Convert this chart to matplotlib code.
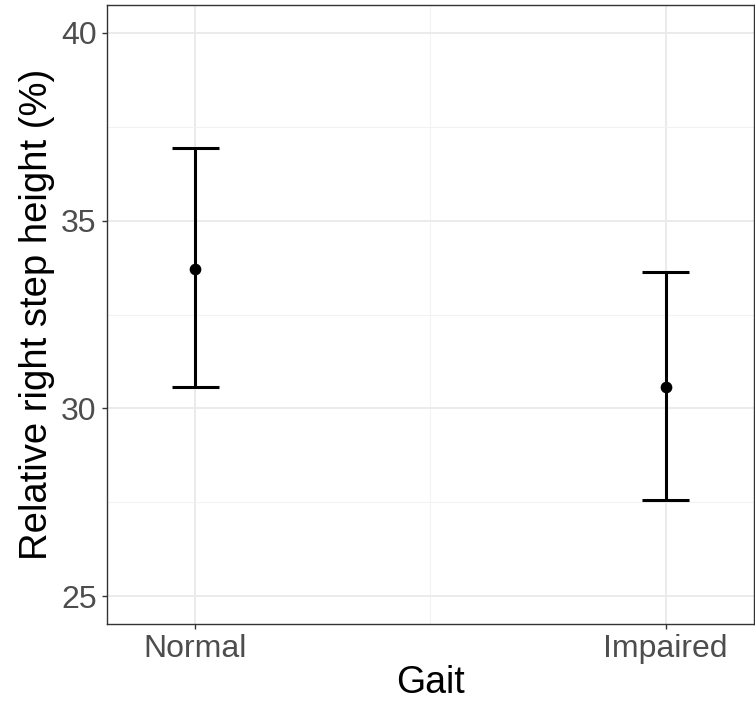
import matplotlib
matplotlib.use("Agg")
import matplotlib.pyplot as plt
from matplotlib.ticker import MultipleLocator

plt.rcParams['font.family'] = ['Liberation Sans', 'DejaVu Sans']

# ----------------------- Data -----------------------
gait = ["Normal", "Impaired"]
mean_height = [33.72, 30.58]
lower_ci = [30.56, 27.55]
upper_ci = [36.93, 33.63]

# ----------------------- Plotting -----------------------
fig = plt.figure(figsize=(7.55, 7.01), dpi=100)
ax = fig.add_axes([107 / 755, 77 / 701, 647 / 755, 619 / 701])

xpos = list(range(1, len(gait) + 1))
cap_half = 0.05

ax.vlines(xpos, lower_ci, upper_ci, color="black", linewidth=2.2, zorder=3)
ax.hlines(lower_ci, [x - cap_half for x in xpos], [x + cap_half for x in xpos],
          color="black", linewidth=2.2, zorder=3)
ax.hlines(upper_ci, [x - cap_half for x in xpos], [x + cap_half for x in xpos],
          color="black", linewidth=2.2, zorder=3)
ax.scatter(xpos, mean_height, s=55, color="black", zorder=4)

ax.set_xlim(0.812, 2.188)
ax.set_ylim(24.254, 40.746)
ax.set_xticks(xpos)
ax.set_xticklabels(gait)
ax.xaxis.set_minor_locator(MultipleLocator(0.5))
ax.yaxis.set_major_locator(MultipleLocator(5))
ax.yaxis.set_minor_locator(MultipleLocator(2.5))

ax.grid(True, which="major", color="#EBEBEB", linewidth=1.4, zorder=0)
ax.grid(True, which="minor", color="#F2F2F2", linewidth=0.8, zorder=0)
ax.set_axisbelow(True)

for side in ax.spines.values():
    side.set_color("#333333")
    side.set_linewidth(1.0)

ax.tick_params(which="major", length=3.5, width=1.0, color="#333333",
               labelcolor="#4D4D4D", labelsize=23, pad=4)
ax.tick_params(which="minor", length=0)

ax.set_xlabel("Gait", fontsize=27, labelpad=0.5)
ax.set_ylabel("Relative right step height (%)", fontsize=27.5, labelpad=4)

fig.savefig("out.png", dpi=100)
